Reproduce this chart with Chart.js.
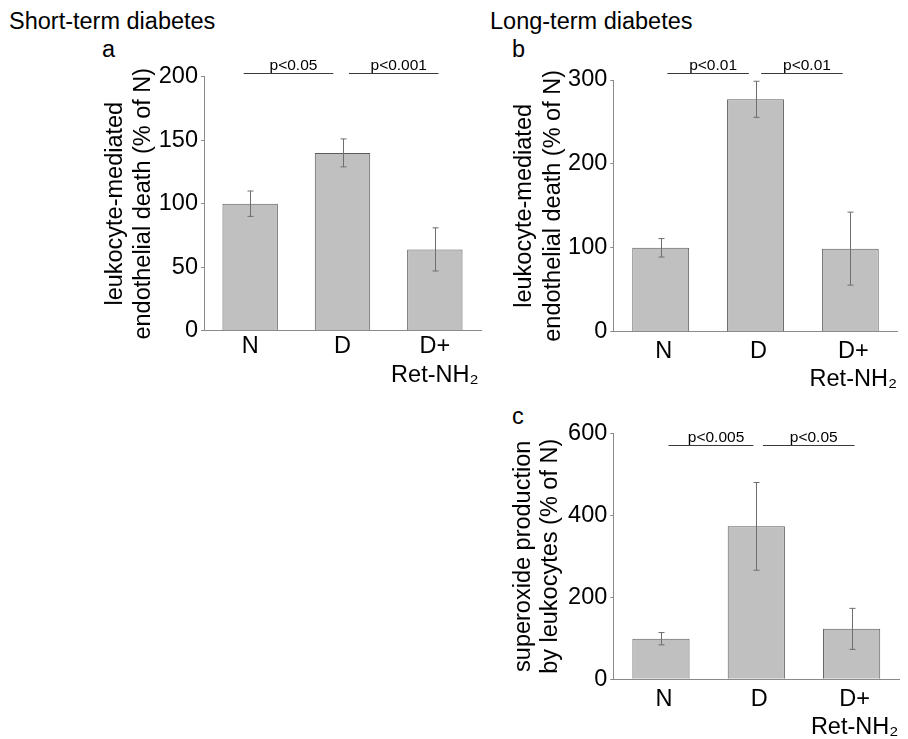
<!DOCTYPE html>
<html>
<head>
<meta charset="utf-8">
<script src="https://cdn.jsdelivr.net/npm/chart.js@4/dist/chart.umd.min.js"></script>
<style>
  body { margin: 0; background: #fff; }
  #wrap { position: relative; width: 908px; height: 739px; overflow: hidden; font-family: "Liberation Sans", Arial, sans-serif; }
  canvas { position: absolute; }
  .lbl { position: absolute; font-size: 23.5px; line-height: 1; color: #000; white-space: nowrap; }
</style>
</head>
<body>
<div id="wrap">
  <div class="lbl" style="left:9px; top:10px;">Short-term diabetes</div>
  <div class="lbl" style="left:102px; top:38px;">a</div>
  <div class="lbl" style="left:490px; top:10px;">Long-term diabetes</div>
  <div class="lbl" style="left:512px; top:38px;">b</div>
  <div class="lbl" style="left:512px; top:405px;">c</div>
  <canvas id="chartA" width="490" height="400" style="left:0; top:0;"></canvas>
  <canvas id="chartB" width="428" height="400" style="left:480px; top:0;"></canvas>
  <canvas id="chartC" width="428" height="349" style="left:480px; top:390px;"></canvas>
</div>
<script>
// groups
const groups = ["N", "D", ["D+", "Ret-NH₂"]];

// a - short-term diabetes, leukocyte-mediated endothelial death
const shortDeath = [100, 140, 64];
const shortDeathErr = [10, 11, 17];
const shortSig = ["p<0.05", "p<0.001"];
const shortSigLevel = 203;

// b - long-term diabetes, leukocyte-mediated endothelial death
const longDeath = [100, 277, 99];
const longDeathErr = [11, 21.5, 43.5];
const longSig = ["p<0.01", "p<0.01"];
const longSigLevel = 308;

// c - superoxide production by leukocytes
const superoxide = [99, 373, 123];
const superoxideErr = [15, 107, 50];
const superoxideSig = ["p<0.005", "p<0.05"];
const superoxideSigLevel = 572;

const FONT = "'Liberation Sans', Arial, sans-serif";

// error bars drawn on top of each bar
const errorBars = {
    id: "errorBars",
    afterDatasetsDraw(chart, args, opts) {
        const ctx = chart.ctx;
        const y = chart.scales.y;
        const meta = chart.getDatasetMeta(0);
        const vals = chart.data.datasets[0].data;
        ctx.save();
        ctx.strokeStyle = "#6e6e6e";
        ctx.lineWidth = 1;
        meta.data.forEach((bar, i) => {
            const e = opts.errors[i];
            const x = Math.round(bar.x) + 0.5;
            const top = y.getPixelForValue(vals[i] + e);
            const bot = y.getPixelForValue(vals[i] - e);
            ctx.beginPath();
            ctx.moveTo(x, top); ctx.lineTo(x, bot);
            ctx.moveTo(x - 3, top); ctx.lineTo(x + 3, top);
            ctx.moveTo(x - 3, bot); ctx.lineTo(x + 3, bot);
            ctx.stroke();
        });
        ctx.restore();
    }
};

// significance lines with p-values
const sigBars = {
    id: "sigBars",
    afterDatasetsDraw(chart, args, opts) {
        const ctx = chart.ctx;
        const x = chart.scales.x, y = chart.scales.y;
        const yy = Math.round(y.getPixelForValue(opts.level)) + 0.5;
        ctx.save();
        ctx.strokeStyle = "#3a3a3a";
        ctx.lineWidth = 1.2;
        ctx.fillStyle = "#000";
        ctx.font = "15.5px " + FONT;
        ctx.textAlign = "center";
        ctx.textBaseline = "alphabetic";
        opts.labels.forEach((t, k) => {
            const x1 = x.getPixelForValue(opts.spans[k][0]);
            const x2 = x.getPixelForValue(opts.spans[k][1]);
            ctx.beginPath();
            ctx.moveTo(x1, yy); ctx.lineTo(x2, yy);
            ctx.stroke();
            ctx.fillText(t, (x1 + x2) / 2 + 5, yy - 4);
        });
        ctx.restore();
    }
};

function makePanel(id, values, errors, yMax, step, yTitle, sig, geo) {
    new Chart(document.getElementById(id), {
        type: "bar",
        data: {
            labels: groups,
            datasets: [{
                data: values,
                backgroundColor: "#c0c0c0",
                borderColor: "#5c5c5c",
                borderWidth: 1,
                barPercentage: 0.6,
                categoryPercentage: 1
            }]
        },
        options: {
            responsive: false,
            animation: false,
            devicePixelRatio: 1,
            layout: { padding: { top: geo.top, right: geo.right, left: 0, bottom: 0 } },
            plugins: {
                legend: { display: false },
                tooltip: { enabled: false },
                errorBars: { errors: errors },
                sigBars: sig
            },
            scales: {
                x: {
                    offset: true,
                    grid: { drawOnChartArea: false, drawTicks: false },
                    border: { color: "#8a8a8a", width: 1 },
                    ticks: {
                        color: "#000",
                        padding: geo.xPad,
                        labelOffset: geo.labelOffset,
                        maxRotation: 0,
                        autoSkip: false,
                        font: { family: FONT, size: 23.5, lineHeight: 1.21 }
                    },
                    afterFit: s => { s.height = geo.xHeight; }
                },
                y: {
                    min: 0,
                    max: yMax,
                    grid: { drawOnChartArea: false, drawTicks: true, tickLength: 3, color: "#8a8a8a" },
                    border: { color: "#8a8a8a", width: 1 },
                    ticks: {
                        stepSize: step,
                        color: "#000",
                        padding: 3,
                        font: { family: FONT, size: 23.5 }
                    },
                    title: {
                        display: true,
                        text: yTitle,
                        color: "#000",
                        padding: { top: geo.titlePad, bottom: 0 },
                        font: { family: FONT, size: 23.5, lineHeight: geo.titleLH }
                    },
                    afterFit: s => { s.width = geo.yWidth; }
                }
            }
        },
        plugins: [errorBars, sigBars]
    });
}

makePanel("chartA", shortDeath, shortDeathErr, 200, 50,
    ["leukocyte-mediated", "endothelial death (% of N)"],
    { labels: shortSig, level: shortSigLevel, spans: [[-0.07, 0.9], [1.07, 2.04]] },
    { top: 76.7, right: 9, yWidth: 204, xHeight: 69.3, xPad: 2, labelOffset: 0, titlePad: 101.7, titleLH: 1.2 });

makePanel("chartB", longDeath, longDeathErr, 300, 100,
    ["leukocyte-mediated", "endothelial death (% of N)"],
    { labels: longSig, level: longSigLevel, spans: [[0.07, 0.93], [1.06, 1.92]] },
    { top: 80, right: 10.3, yWidth: 133.3, xHeight: 68.3, xPad: 5.5, labelOffset: 3, titlePad: 30.9, titleLH: 1.2 });

makePanel("chartC", superoxide, superoxideErr, 600, 200,
    ["superoxide production", "by leukocytes (% of N)"],
    { labels: superoxideSig, level: superoxideSigLevel, spans: [[0.08, 0.97], [1.07, 2.03]] },
    { top: 43.3, right: 8.7, yWidth: 133.3, xHeight: 59.7, xPad: 5.5, labelOffset: 3, titlePad: 30.5, titleLH: 1.14 });
</script>
</body>
</html>
